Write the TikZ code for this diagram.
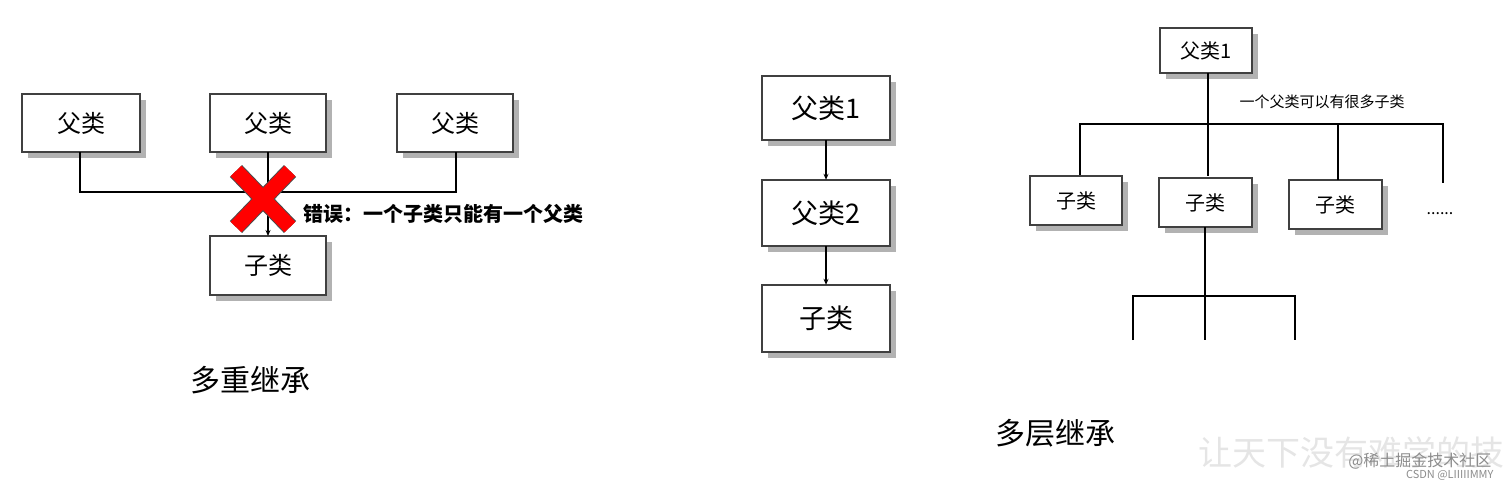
\documentclass[tikz,border=0pt]{standalone}
\usepackage{fontspec}
\setmainfont{Noto Sans CJK SC}
\usetikzlibrary{arrows.meta}
\begin{document}
\begin{tikzpicture}[x=1pt,y=-1pt,
  ln/.style={line width=2.4pt,black},
  arr/.style={line width=1.5pt,-{Stealth[length=6pt,width=5pt]}}]
\useasboundingbox (0,0) rectangle (1512,488);
\newcommand{\shbox}[6]{% name, x1,y1,x2,y2,text
  \fill[black!30] (#2+6,#3+6) rectangle (#4+6,#5+6);
  \draw[draw=black!75,line width=1.6pt,fill=white] (#2,#3) rectangle (#4,#5);
  \node (#1) at ({(#2+#4)/2},{(#3+#5)/2}) [minimum width={#4-#2},minimum height={#5-#3},inner sep=0pt] {#6};}
% left
\begin{scope}[font=\fontsize{24}{24}\selectfont]
\shbox{p1}{22}{94}{140}{152}{父类}
\shbox{p2}{210}{94}{326}{152}{父类}
\shbox{p3}{397}{94}{513}{152}{父类}
\shbox{c}{210}{236}{326}{295}{子类}
\end{scope}
\coordinate (h1) at (80,192); \coordinate (h3) at (456,192);
\draw[ln,line width=2.2pt] (p1.south -| h1) -- (h1) -- (h3) -- (p3.south -| h3);
\draw[line width=1.6pt] (268,152) -- (268,192);
\draw[arr] (268,192) -- (268,236);
\draw[black!70,line width=17pt] (236,171) -- (290,227) (290,171) -- (236,227);
\draw[red,line width=15pt] (236,171) -- (290,227) (290,171) -- (236,227);
\node[font=\bfseries\fontsize{20}{20}\selectfont,anchor=west] (err) at (300,214) {错误：一个子类只能有一个父类};
\node[font=\fontsize{30}{30}\selectfont] (t1) at (250,380) {多重继承};
% middle
\begin{scope}[font=\fontsize{27}{27}\selectfont]
\shbox{m1}{762}{76}{890}{140}{父类1}
\shbox{m2}{762}{180}{890}{246}{父类2}
\shbox{m3}{762}{285}{890}{352}{子类}
\end{scope}
\draw[arr] (m1.south) -- (m2.north);
\draw[arr] (m2.south) -- (m3.north);
% right
\begin{scope}[font=\fontsize{20}{20}\selectfont]
\shbox{r0}{1160}{28}{1252}{73}{父类1}
\shbox{r1}{1030}{176}{1122}{225}{子类}
\shbox{r2}{1159}{178}{1252}{227}{子类}
\shbox{r3}{1289}{180}{1382}{229}{子类}
\end{scope}
\coordinate (a1) at (1080,124); \coordinate (a4) at (1443,124);
\coordinate (e4) at (1443,183);
\draw[ln] (1208,73) -- (1208,176);
\draw[ln] (1080,175) -- (a1) -- (a4) -- (e4);
\draw[ln] (1338,124) -- (1338,180);
\node[font=\fontsize{16}{16}\selectfont] (dots) at (1440,214) {......};
\node[font=\fontsize{15}{15}\selectfont,anchor=west] (lb) at (1236,102) {一个父类可以有很多子类};
\draw[ln] (1205,227) -- (1205,340);
\draw[ln] (1133,340) -- (1133,296) -- (1295,296) -- (1295,340);
\node[font=\fontsize{30}{30}\selectfont] (t2) at (1055,433) {多层继承};
% watermarks
\node[black!10,font=\fontsize{34}{34}\selectfont,anchor=west] (w0) at (1195,452) {让天下没有难学的技};
\node[black!45,font=\fontsize{16}{16}\selectfont,anchor=east] (w1) at (1495,461) {@稀土掘金技术社区};
\node[black!45,font=\fontsize{11}{11}\selectfont,anchor=east] (w2) at (1497,475) {CSDN @LIIIIIMMY};
\end{tikzpicture}
\end{document}
